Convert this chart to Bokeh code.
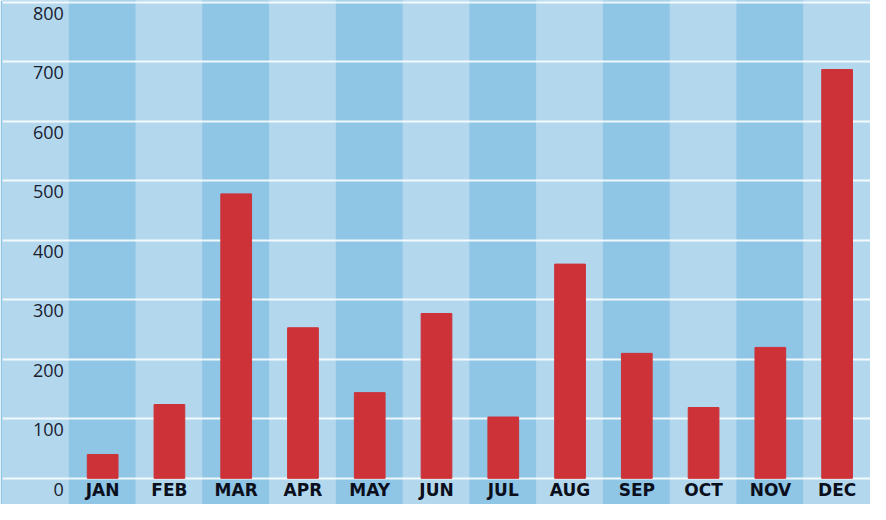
from bokeh.plotting import figure
from bokeh.models import FactorRange, Range1d, ColumnDataSource, Grid, FixedTicker
from bokeh.core.properties import value
from bokeh.embed import file_html
from bokeh.resources import INLINE

# ---- data ----
months = ["JAN", "FEB", "MAR", "APR", "MAY", "JUN",
          "JUL", "AUG", "SEP", "OCT", "NOV", "DEC"]
sales = [40, 124, 478, 253, 144, 277, 103, 360, 210, 119, 220, 687]
y_ticks = [0, 100, 200, 300, 400, 500, 600, 700, 800]
y_tick_labels = ["0", "100", "200", "300", "400", "500", "600", "700", "800"]

# ---- styling ----
DARK = "#8fc5e5"
LIGHT = "#b3d8ee"
BAR = "#cd3238"
TEXT = "#1a2030"
Y_MIN, Y_MAX = -44, 803

blank = " "
factors = [blank] + months

p = figure(width=870, height=504,
           x_range=FactorRange(factors=factors),
           y_range=Range1d(Y_MIN, Y_MAX),
           x_axis_location=None, y_axis_location=None,
           output_backend="svg", toolbar_location=None,
           min_border_left=2, min_border_right=0,
           min_border_top=0, min_border_bottom=0)
p.outline_line_color = None
p.border_fill_color = DARK
p.background_fill_color = LIGHT
for g in p.xgrid + p.ygrid:
    g.visible = False

# alternating column bands
band_src = ColumnDataSource(dict(
    x=factors,
    color=[LIGHT if i % 2 == 0 else DARK for i in range(len(factors))],
))
p.vbar(x="x", top=Y_MAX, bottom=Y_MIN, width=1.0, color="color",
       source=band_src, level="image")

# horizontal gridlines
grid = Grid(dimension=1, ticker=FixedTicker(ticks=y_ticks),
            grid_line_color="white", grid_line_alpha=0.85, grid_line_width=2)
p.add_layout(grid, "center")

# bars
bar_src = ColumnDataSource(dict(x=months, top=sales))
p.vbar(x="x", top="top", bottom=0, width=0.46, color=BAR, source=bar_src)

# y tick labels (inside the first, blank column)
ylab_src = ColumnDataSource(dict(x=[blank] * len(y_ticks), y=y_ticks,
                                 t=y_tick_labels))
p.text(x="x", y="y", text="t", source=ylab_src,
       text_font=value("Open Sans"), text_font_size="18px",
       text_color=TEXT, text_align="right", text_baseline="middle",
       x_offset=28, y_offset=11)

# month labels below the zero line
xlab_src = ColumnDataSource(dict(x=months, y=[0] * len(months), t=months))
p.text(x="x", y="y", text="t", source=xlab_src,
       text_font=value("DejaVu Sans"), text_font_style="bold",
       text_font_size="17px", text_color="#0b0f1c",
       text_align="center", text_baseline="middle", y_offset=12)

open("out.html", "w").write(file_html(p, INLINE))
